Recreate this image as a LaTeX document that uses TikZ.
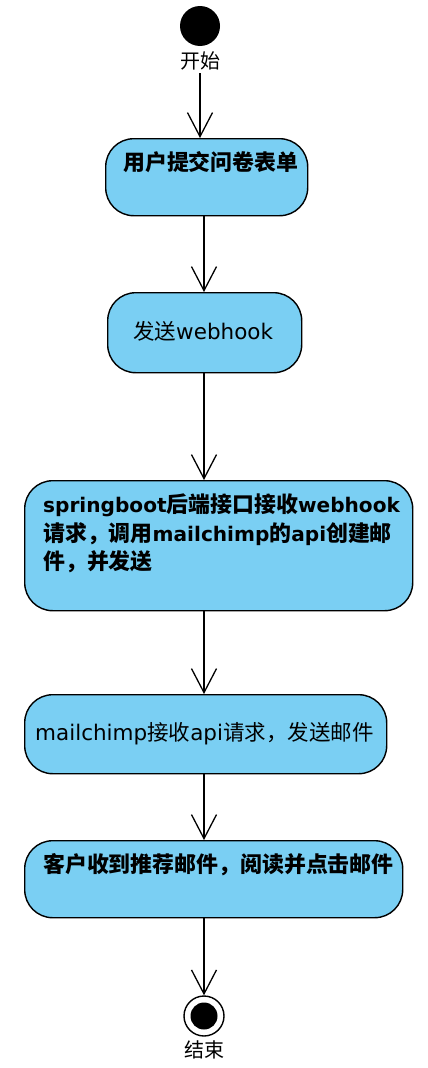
\documentclass[tikz,border=0pt]{standalone}
\usepackage{fontspec}
\setmainfont{DejaVu Sans}
\newfontfamily\cjk{Noto Sans CJK SC}
\newcommand{\zb}[1]{{\fontsize{21.9}{26}\selectfont\cjk\bfseries #1}}
\newcommand{\zr}[1]{{\cjk #1}}
\usetikzlibrary{arrows.meta}
\definecolor{boxblue}{RGB}{122,207,243}
\tikzset{
  actbox/.style={draw=black, line width=1.4pt, fill=boxblue, rounded corners=28pt, inner sep=0pt, anchor=north west},
  arr/.style={line width=1.3pt, -{Straight Barb[length=24pt,width=25pt,line width=1.3pt]}},
  txt/.style={anchor=base west, inner sep=0pt, font=\fontsize{21.5}{26}\selectfont},
  btxt/.style={anchor=base west, inner sep=0pt, font=\fontsize{20.1}{26}\selectfont\bfseries},
}
\begin{document}
\begin{tikzpicture}[x=1pt,y=-1pt]
\useasboundingbox (0,0) rectangle (428,1068);
% start
\node[circle, fill=black, minimum size=40pt, inner sep=0pt] (start) at (200,26) {};
\node[anchor=base, inner sep=0pt, font=\fontsize{20}{24}\selectfont\cjk] (startlbl) at (200,68.5) {开始};
% boxes
\node[actbox, minimum width=202pt, minimum height=77pt] (b1) at (105,138) {};
\node[btxt] (t1) at (123,170.5) {\zb{用户提交问卷表单}};
\node[actbox, minimum width=194pt, minimum height=80pt] (b2) at (107,292) {};
\node[txt] (t2) at (133,339.5) {\zr{发送}webhook};
\node[actbox, minimum width=388pt, minimum height=130pt] (b3) at (24,480) {};
\node[btxt] (t3a) at (43,512.5) {springboot\zb{后端接口接收}webhook};
\node[btxt] (t3b) at (43,541.5) {\zb{请求，调用}mailchimp\zb{的}api\zb{创建邮}};
\node[btxt] (t3c) at (43,569.5) {\zb{件，并发送}};
\node[actbox, minimum width=362pt, minimum height=79pt] (b4) at (24,694) {};
\node[txt] (t4) at (35,740.5) {mailchimp\zr{接收}api\zr{请求，发送邮件}};
\node[actbox, minimum width=378pt, minimum height=77pt] (b5) at (24,840) {};
\node[btxt] (t5) at (43,872.5) {\zb{客户收到推荐邮件，阅读并点击邮件}};
% end
\node[circle, draw=black, line width=1.4pt, fill=white, minimum size=40pt, inner sep=0pt] (endc) at (204,1016) {};
\node[circle, fill=black, minimum size=27pt, inner sep=0pt] (endi) at (204,1016) {};
\node[anchor=base, inner sep=0pt, font=\fontsize{20}{24}\selectfont\cjk] (endlbl) at (204,1057) {结束};
% connectors
\draw[arr] (startlbl.south) ++(0,3) coordinate (s0) -- (s0 |- b1.north);
\draw[arr] (b1.south -| endc) -- (b2.north -| endc);
\draw[arr] (b2.south -| endc) -- (b3.north -| endc);
\draw[arr] (b3.south -| endc) -- (b4.north -| endc);
\draw[arr] (b4.south -| endc) -- (b5.north -| endc);
\draw[arr] (b5.south -| endc) -- (endc.north);
\end{tikzpicture}
\end{document}
